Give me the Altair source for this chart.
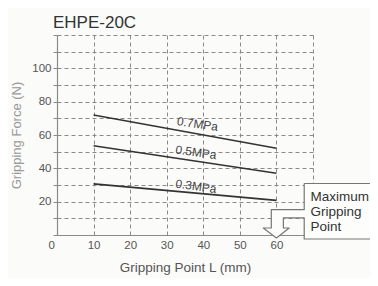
import altair as alt
import pandas as pd

chart_title = "EHPE-20C"
x_title = "Gripping Point L (mm)"
y_title = "Gripping Force (N)"

# Gripping point L (mm) at the two ends of every line
points_L = [10, 60]
force_07 = [72.0, 52.0]
force_05 = [53.5, 37.0]
force_03 = [30.7, 20.8]
pressures = ["0.7MPa", "0.5MPa", "0.3MPa"]

# label anchor points (data units)
label_L = [38.4, 38.0, 38.0]
label_F = [66.6, 49.6, 29.2]

x_ticks = [0, 10, 20, 30, 40, 50, 60, 70]
y_ticks = [0, 10, 20, 30, 40, 50, 60, 70, 80, 90, 100, 110, 120]

# callout ("Maximum Gripping Point") outline, in data units
callout_lines = ["Maximum", "Gripping", "Point"]
callout_text_L = [69.3, 69.3, 69.3]
callout_text_F = [23.0, 13.9, 4.8]
callout_x = [67.6, 87.0, 87.0, 67.6, 67.6, 61.9, 61.9, 63.5, 60.0, 56.4, 58.6, 58.6, 67.6, 67.6]
callout_y = [30.9, 30.9, -2.4, -2.4, 10.3, 10.3, 4.2, 4.2, -1.8, 4.2, 4.2, 15.2, 15.2, 30.9]

FONT = "Liberation Sans"

rows = []
for name, vals in zip(pressures, [force_07, force_05, force_03]):
    for l, f in zip(points_L, vals):
        rows.append({"L": l, "F": f, "p": name})
lines_df = pd.DataFrame(rows)
labels_df = pd.DataFrame({"L": label_L, "F": label_F, "t": pressures})
callout_df = pd.DataFrame({"L": callout_x, "F": callout_y, "o": list(range(len(callout_x)))})
ctext_df = pd.DataFrame({"L": callout_text_L, "F": callout_text_F, "t": callout_lines})

xscale = alt.Scale(domain=[0, 70], nice=False)
yscale = alt.Scale(domain=[0, 120], nice=False)

x_axis = alt.Axis(
    values=x_ticks,
    labelExpr="datum.value == 70 ? '' : datum.label",
    labelOverlap=False,
    grid=True, gridDash=[4, 3], gridColor="#8a8a8a", gridWidth=1,
    ticks=False, domainColor="#8a8a8a", domainWidth=1.2,
    labelFont=FONT, labelFontSize=11.5, labelColor="#555", labelPadding=4,
    labelOffset=alt.condition("datum.value == 0", alt.value(-9), alt.value(0)),
    title=x_title, titleFont=FONT, titleFontSize=13.5, titleFontWeight="normal",
    titleColor="#555", titlePadding=10,
)
y_axis = alt.Axis(
    values=y_ticks,
    labelExpr="(datum.value > 0 && datum.value <= 100 && datum.value % 20 == 0) ? datum.label : ''",
    labelOverlap=False,
    grid=True, gridDash=[4, 3], gridColor="#8a8a8a", gridWidth=1,
    ticks=True, tickSize=4, tickColor="#8a8a8a",
    domainColor="#8a8a8a", domainWidth=1.2,
    labelFont=FONT, labelFontSize=11.5, labelColor="#555", labelPadding=2,
    title=y_title, titleFont=FONT, titleFontSize=13, titleFontWeight="normal",
    titleColor="#999", titlePadding=8,
)

X = alt.X("L:Q", scale=xscale, axis=x_axis)
Y = alt.Y("F:Q", scale=yscale, axis=y_axis)

base_lines = alt.Chart(lines_df).mark_line(color="#333", strokeWidth=1.6).encode(
    x=X, y=Y, detail="p:N",
)

labels = alt.Chart(labels_df).mark_text(
    font=FONT, fontSize=12, color="#444", angle=8, baseline="middle", align="center"
).encode(x=X, y=Y, text="t:N")

callout = alt.Chart(callout_df).mark_line(
    color="#777", strokeWidth=1.2, fill="#fdfdfb", clip=False, strokeJoin="round"
).encode(x=X, y=Y, order="o:Q")

ctext = alt.Chart(ctext_df).mark_text(
    font=FONT, fontSize=13.5, color="#333", align="left", baseline="middle", clip=False
).encode(x=X, y=Y, text="t:N")

chart = alt.layer(base_lines, labels, callout, ctext).properties(
    width=256, height=200,
    autosize=alt.AutoSizeParams(type="none"),
    padding={"left": 49, "top": 27, "right": 57, "bottom": 43},
    background="#fbfbf9",
    title=alt.TitleParams(
        chart_title, anchor="start", frame="group", font=FONT, fontSize=17,
        fontWeight="normal", color="#333", offset=11, dx=-4, dy=14,
    ),
).configure_view(stroke="transparent")

chart.save("out.html", embed_options={"renderer": "svg", "actions": False})
